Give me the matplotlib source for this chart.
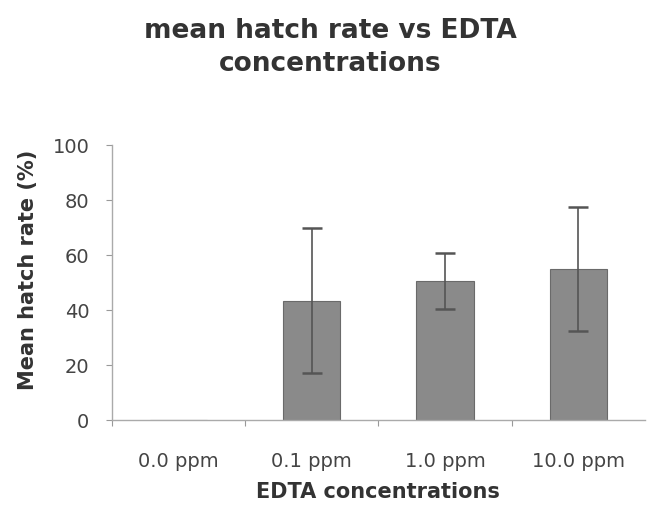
import matplotlib
matplotlib.use("Agg")
import matplotlib.pyplot as plt

categories = ["0.0 ppm", "0.1 ppm", "1.0 ppm", "10.0 ppm"]
means = [0.0, 43.5, 50.5, 55.0]
errors = [0.0, 26.5, 10.2, 22.7]
yticks = [0, 20, 40, 60, 80, 100]

plt.rcParams['font.family'] = ['DejaVu Sans']

fig = plt.figure(figsize=(6.57, 5.15), dpi=100)
ax = fig.add_axes([0.170, 0.184, 0.812, 0.534])

x = list(range(len(categories)))
ax.bar(x, means, width=0.43, color="#8a8a8a", edgecolor="#6a6a6a", linewidth=0.8)
ax.errorbar(x[1:], means[1:], yerr=errors[1:], fmt="none", ecolor="#555555",
            elinewidth=1.2, capsize=7, capthick=1.8)

ax.set_xlim(-0.5, 3.5)
ax.set_ylim(0, 100)
ax.set_yticks(yticks)
ax.set_yticklabels([str(v) for v in yticks], fontsize=14, color="#444444")
ax.set_xticks([-0.5, 0.5, 1.5, 2.5])
ax.set_xticklabels([])
ax.set_xticks(x, minor=True)
ax.set_xticklabels(categories, minor=True, fontsize=14, color="#444444")
ax.tick_params(axis="x", which="minor", length=0, pad=23)
ax.tick_params(axis="x", which="major", length=4, color="#999999", direction="out")
ax.tick_params(axis="y", length=4, color="#999999", direction="out", pad=12)

for s in ["top", "right"]:
    ax.spines[s].set_visible(False)
for s in ["left", "bottom"]:
    ax.spines[s].set_color("#aaaaaa")
    ax.spines[s].set_linewidth(1.0)

ax.set_ylabel("Mean hatch rate (%)", fontsize=15, fontweight="bold", color="#333333")
ax.yaxis.set_label_coords(-0.139, 0.545)
ax.set_xlabel("EDTA concentrations", fontsize=15, fontweight="bold", color="#333333", labelpad=8)

fig.text(0.503, 0.908, "mean hatch rate vs EDTA\nconcentrations", ha="center", va="center",
         fontsize=19, fontweight="bold", color="#333333", linespacing=1.35)

fig.savefig("out.png", dpi=100)
